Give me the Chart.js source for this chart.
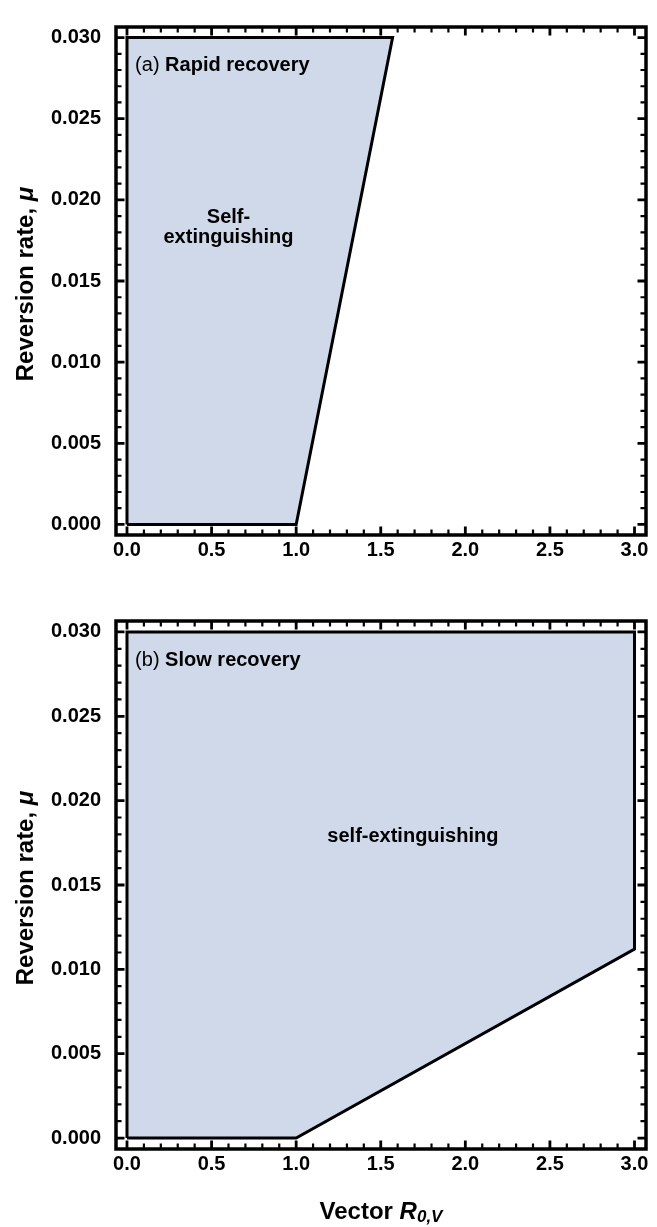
<!DOCTYPE html>
<html>
<head>
<meta charset="utf-8">
<script src="https://cdn.jsdelivr.net/npm/chart.js@4.4.1/dist/chart.umd.min.js"></script>
<style>
  body { margin: 0; background: #fff; width: 657px; height: 1227px; overflow: hidden; }
  .panel { position: absolute; left: 0; width: 657px; }
</style>
</head>
<body>
<div class="panel" style="top:0;height:580px"><canvas id="rapidChart"></canvas></div>
<div class="panel" style="top:580px;height:647px"><canvas id="slowChart"></canvas></div>

<script>
// axis ticks
const r0Ticks = [0, 0.5, 1.0, 1.5, 2.0, 2.5, 3.0];
const muTicks = [0, 0.005, 0.010, 0.015, 0.020, 0.025, 0.030];

// self-extinguishing region outlines, (R0,V, mu) pairs
const rapidR0 = [0, 1.0, 1.57, 0, 0];
const rapidMu = [0, 0, 0.030, 0.030, 0];
const slowR0 = [0, 1.0, 3.0, 3.0, 0, 0];
const slowMu = [0, 0, 0.0112, 0.030, 0.030, 0];

const FONT = "'Liberation Sans', Arial, sans-serif";
const FILL = 'rgb(207, 217, 233)';

function drawRuns(ctx, runs, x, y, align) {
  let total = 0;
  runs.forEach(r => { ctx.font = r.font; total += ctx.measureText(r.text).width; });
  let cx = align === 'center' ? x - total / 2 : x;
  ctx.textAlign = 'left';
  ctx.textBaseline = 'middle';
  runs.forEach(r => {
    ctx.font = r.font;
    ctx.fillText(r.text, cx, y + (r.dy || 0));
    cx += ctx.measureText(r.text).width;
  });
}

const framePlugin = {
  id: 'frame',
  afterDatasetsDraw(chart, args, opts) {
    const { ctx, chartArea: a, scales: { x, y } } = chart;
    ctx.save();
    ctx.strokeStyle = '#000';
    ctx.lineCap = 'butt';

    const xTick = (v, len, w) => {
      const px = x.getPixelForValue(v);
      ctx.lineWidth = w;
      ctx.beginPath();
      ctx.moveTo(px, a.bottom); ctx.lineTo(px, a.bottom - len);
      ctx.moveTo(px, a.top); ctx.lineTo(px, a.top + len);
      ctx.stroke();
    };
    const yTick = (v, len, w) => {
      const py = y.getPixelForValue(v);
      ctx.lineWidth = w;
      ctx.beginPath();
      ctx.moveTo(a.left, py); ctx.lineTo(a.left + len, py);
      ctx.moveTo(a.right, py); ctx.lineTo(a.right - len, py);
      ctx.stroke();
    };
    // minor ticks every 0.1 and 0.001
    for (let i = 0; i <= 30; i++) {
      if (i % 5) xTick(i / 10, 5.5, 2.2);
    }
    for (let i = 0; i <= 30; i++) {
      if (i % 5) yTick(i / 1000, 5.5, 2.2);
    }
    r0Ticks.forEach(v => xTick(v, 8.5, 2.8));
    muTicks.forEach(v => yTick(v, 8.5, 2.8));

    ctx.lineWidth = 3.5;
    ctx.strokeRect(a.left, a.top, a.right - a.left, a.bottom - a.top);

    // in-plot labels
    ctx.fillStyle = '#000';
    (opts.labels || []).forEach(l => {
      drawRuns(ctx, l.runs, x.getPixelForValue(l.x), y.getPixelForValue(l.y), l.align);
    });

    // y axis title, rotated
    ctx.save();
    ctx.translate(26, (a.top + a.bottom) / 2 + 3);
    ctx.rotate(-Math.PI / 2);
    drawRuns(ctx, [
      { text: 'Reversion rate, ', font: `bold 24px ${FONT}` },
      { text: 'μ', font: `italic bold 24px ${FONT}` }
    ], 0, 0, 'center');
    ctx.restore();

    if (opts.xTitle) {
      drawRuns(ctx, [
        { text: 'Vector ', font: `bold 24px ${FONT}` },
        { text: 'R', font: `italic bold 24px ${FONT}` },
        { text: '0,V', font: `italic bold 17px ${FONT}`, dy: 5 }
      ], (a.left + a.right) / 2, a.bottom + 63, 'center');
    }
    ctx.restore();
  }
};

function makePanel(id, r0, mu, padTop, xHeight, labels, xTitle) {
  new Chart(document.getElementById(id), {
    type: 'line',
    data: {
      datasets: [{
        data: r0.map((v, i) => ({ x: v, y: mu[i] })),
        borderColor: '#000',
        borderWidth: 3,
        borderJoinStyle: 'miter',
        backgroundColor: FILL,
        fill: 'shape',
        pointRadius: 0,
        tension: 0
      }]
    },
    options: {
      responsive: true,
      maintainAspectRatio: false,
      animation: false,
      layout: { padding: { top: padTop, right: 11, left: 0, bottom: 0 } },
      plugins: {
        legend: { display: false },
        tooltip: { enabled: false },
        frame: { labels: labels, xTitle: xTitle }
      },
      scales: {
        x: {
          type: 'linear',
          min: -0.065,
          max: 3.068,
          grid: { display: false, drawTicks: false },
          border: { display: false },
          afterBuildTicks: s => { s.ticks = r0Ticks.map(v => ({ value: v })); },
          afterFit: s => { s.height = xHeight; },
          ticks: {
            autoSkip: false,
            maxRotation: 0,
            padding: 3,
            color: '#000',
            font: { family: FONT, size: 20, weight: 'bold' },
            callback: v => v.toFixed(1)
          }
        },
        y: {
          type: 'linear',
          min: -0.00065,
          max: 0.03065,
          grid: { display: false, drawTicks: false },
          border: { display: false },
          afterBuildTicks: s => { s.ticks = muTicks.map(v => ({ value: v })); },
          afterFit: s => { s.width = 116; },
          ticks: {
            autoSkip: false,
            padding: 15,
            color: '#000',
            font: { family: FONT, size: 20, weight: 'bold' },
            callback: v => v.toFixed(3)
          }
        }
      }
    },
    plugins: [framePlugin]
  });
}

makePanel('rapidChart', rapidR0, rapidMu, 7, 45, [
  { x: 0.048, y: 0.0283, align: 'left', runs: [
    { text: '(a) ', font: `20px ${FONT}` },
    { text: 'Rapid recovery', font: `bold 20px ${FONT}` }
  ] },
  { x: 0.60, y: 0.0189, align: 'center', runs: [{ text: 'Self-', font: `bold 20px ${FONT}` }] },
  { x: 0.60, y: 0.0177, align: 'center', runs: [{ text: 'extinguishing', font: `bold 20px ${FONT}` }] }
], false);

makePanel('slowChart', slowR0, slowMu, 41, 78, [
  { x: 0.048, y: 0.0283, align: 'left', runs: [
    { text: '(b) ', font: `20px ${FONT}` },
    { text: 'Slow recovery', font: `bold 20px ${FONT}` }
  ] },
  { x: 1.69, y: 0.0179, align: 'center', runs: [{ text: 'self-extinguishing', font: `bold 20px ${FONT}` }] }
], true);
</script>
</body>
</html>
